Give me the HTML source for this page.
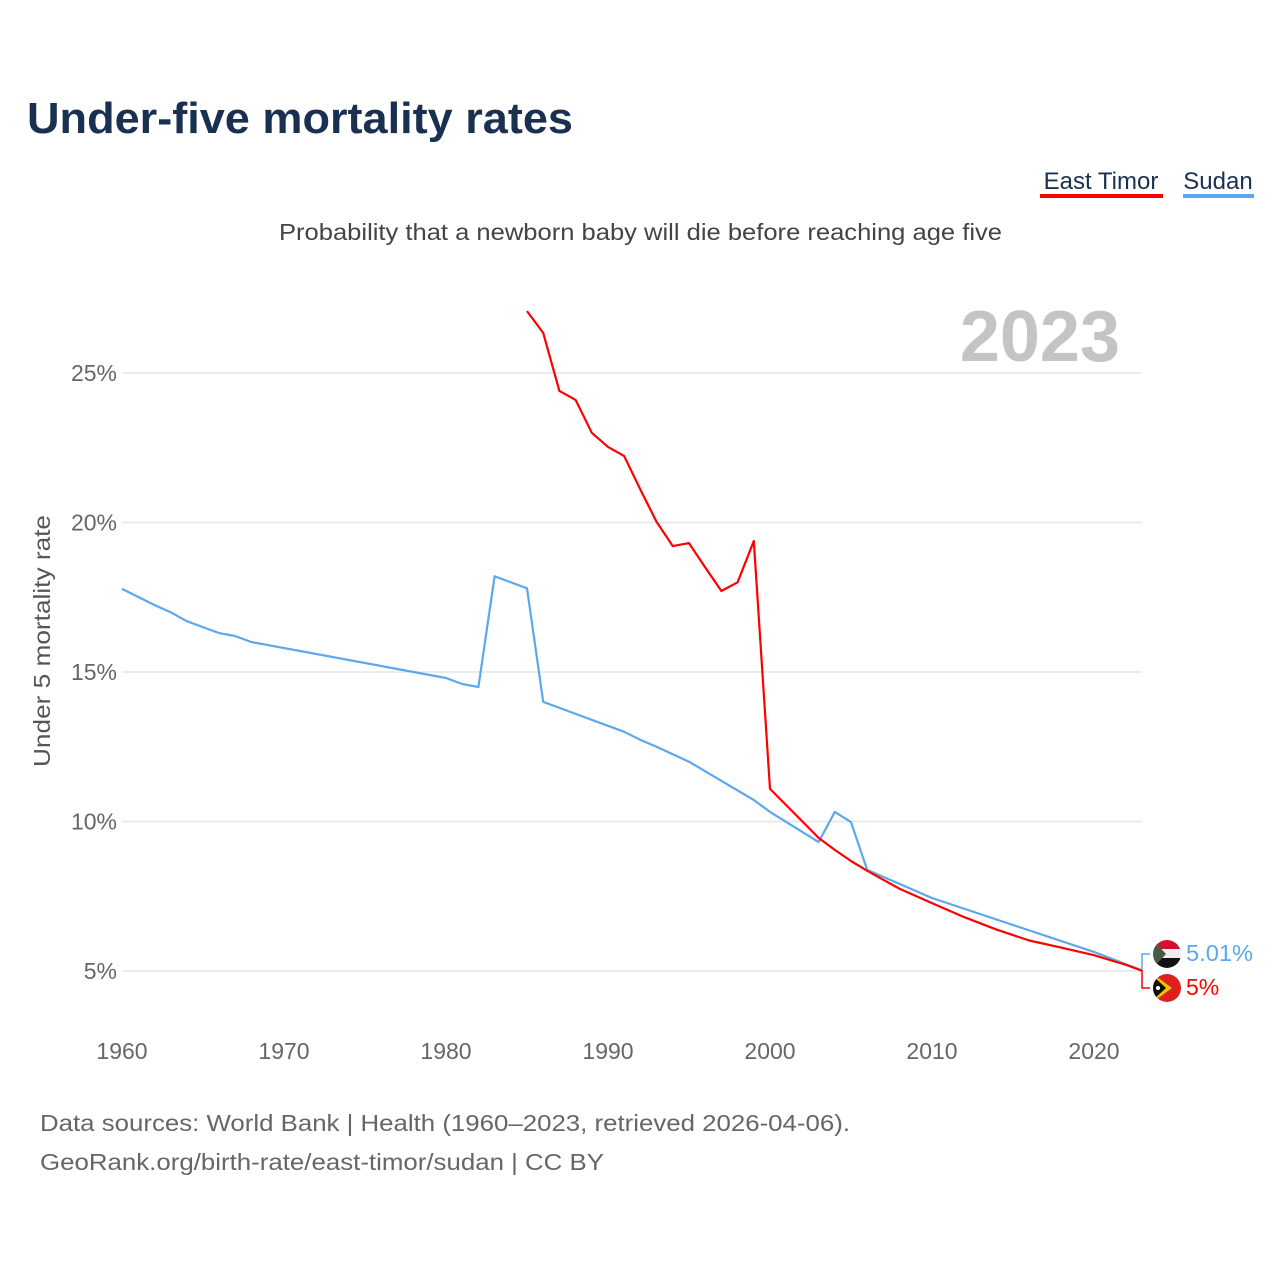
<!DOCTYPE html>
<html><head><meta charset="utf-8">
<style>
body{margin:0;background:#fff;width:1280px;height:1280px;overflow:hidden;font-family:"Liberation Sans",sans-serif;}
svg text{font-family:"Liberation Sans",sans-serif;}
</style></head>
<body>
<svg id="chart" width="1280" height="1280" viewBox="0 0 1280 1280">
<text x="27" y="133" font-size="44" font-weight="bold" fill="#1a3050" textLength="546" lengthAdjust="spacingAndGlyphs">Under-five mortality rates</text>
<g>
<g>
<text x="1101" y="189" font-size="24" fill="#1a3050" text-anchor="middle">East Timor</text>
<rect x="1040" y="194" width="123" height="4" fill="#ff0000"/></g>
<g>
<text x="1218" y="189" font-size="24" fill="#1a3050" text-anchor="middle">Sudan</text>
<rect x="1183" y="194" width="71" height="4" fill="#5ba8f0"/></g>
</g>
<text x="279" y="240" font-size="23" fill="#444" textLength="723" lengthAdjust="spacingAndGlyphs">Probability that a newborn baby will die before reaching age five</text>
<text x="1120" y="361" font-size="72" font-weight="bold" fill="#c4c4c4" text-anchor="end">2023</text>
<text transform="translate(50,641) rotate(-90)" font-size="23" fill="#555" text-anchor="middle" textLength="252" lengthAdjust="spacingAndGlyphs">Under 5 mortality rate</text>
<g id="grid"></g><g id="yticks"></g><g id="xticks"></g><g id="lines"></g>
<g>
<path d="M1142 969 L1142 954 L1150 954" fill="none" stroke="#5ba8f0" stroke-width="1.5"/>
<path d="M1142 971 L1142 988 L1150 988" fill="none" stroke="#ff0000" stroke-width="1.5"/>
<g>
<clipPath id="c1"><circle cx="1167" cy="954" r="14"/></clipPath>
<g clip-path="url(#c1)"><rect x="1153" y="940" width="28" height="10" fill="#d21034"/><rect x="1153" y="949" width="28" height="10" fill="#eee"/><rect x="1153" y="958" width="28" height="10" fill="#111"/><path d="M1153 940 L1166 954 L1153 968Z" fill="#4a5a40"/></g></g>
<text x="1186" y="961" font-size="23" fill="#5ba8f0" textLength="67" lengthAdjust="spacingAndGlyphs">5.01%</text>
<g>
<clipPath id="c2"><circle cx="1167" cy="988" r="14"/></clipPath>
<g clip-path="url(#c2)"><rect x="1153" y="974" width="28" height="28" fill="#dc2020"/><path d="M1153 974 L1172 988 L1153 1002Z" fill="#f5c000"/><path d="M1153 976 L1166 988 L1153 1000Z" fill="#111"/><circle cx="1158" cy="988" r="2" fill="#fff"/></g></g>
<text x="1186" y="995" font-size="23" fill="#ff0000">5%</text>
</g>
<text x="40" y="1131" font-size="23" fill="#666" textLength="810" lengthAdjust="spacingAndGlyphs">Data sources: World Bank | Health (1960–2023, retrieved 2026-04-06).</text>
<text x="40" y="1170" font-size="23" fill="#666" textLength="564" lengthAdjust="spacingAndGlyphs">GeoRank.org/birth-rate/east-timor/sudan | CC BY</text>
</svg>
<script>
const yTicks=[5,10,15,20,25];
const xTicks=[1960,1970,1980,1990,2000,2010,2020];
const sudanYears=[1960,1962,1963,1964,1966,1967,1968,1980,1981,1982,1983,1985,1986,1991,1992,1993,1995,1999,2000,2003,2004,2005,2006,2010,2015,2020,2023];
const sudanValues=[17.78,17.24,17.0,16.7,16.3,16.2,16.0,14.8,14.6,14.5,18.2,17.8,14.0,13.0,12.73,12.5,12.0,10.72,10.32,9.31,10.32,9.98,8.38,7.44,6.54,5.64,5.01];
const timorYears=[1985,1986,1987,1988,1989,1990,1991,1992,1993,1994,1995,1996,1997,1998,1999,2000,2001,2002,2003,2004,2005,2006,2008,2010,2012,2014,2016,2018,2020,2022,2023];
const timorValues=[27.07,26.34,24.4,24.1,23.0,22.53,22.22,21.1,20.02,19.21,19.31,18.5,17.71,18.0,19.38,11.09,10.55,10.0,9.45,9.05,8.68,8.35,7.75,7.27,6.8,6.38,6.02,5.78,5.53,5.2,5.0];
const NS='http://www.w3.org/2000/svg';
const X=y=>122+(y-1960)*16.2;
const Y=v=>971-(v-5)*29.9;
function mk(t,a,p){const e=document.createElementNS(NS,t);for(const k in a)e.setAttribute(k,a[k]);p.appendChild(e);return e;}
const grid=document.getElementById('grid'),yt=document.getElementById('yticks'),xt=document.getElementById('xticks'),ln=document.getElementById('lines');
yTicks.forEach(v=>{
 const l=mk('line',{x1:122,x2:1142,y1:Y(v),y2:Y(v),stroke:'#e6e6e6','stroke-width':1.5},grid);
 
 
 const t=mk('text',{x:117,y:Y(v)+8,'font-size':23,fill:'#666','text-anchor':'end'},yt);
 t.textContent=v+'%';
 
 
});
xTicks.forEach(y=>{
 const t=mk('text',{x:X(y),y:1059,'font-size':23,fill:'#666','text-anchor':'middle'},xt);
 t.textContent=y;
 
 
});
function line(ys,vs,c,name){
 const d=ys.map((y,i)=>(i?'L':'M')+X(y).toFixed(1)+' '+Y(vs[i]).toFixed(1)).join(' ');
 const p=mk('path',{d:d,fill:'none',stroke:c,'stroke-width':2.2,'stroke-linejoin':'round'},ln);
 
 
}
line(sudanYears,sudanValues,'#5ba8f0','sudan-line');
line(timorYears,timorValues,'#ff0000','east-timor-line');
</script>
</body></html>
